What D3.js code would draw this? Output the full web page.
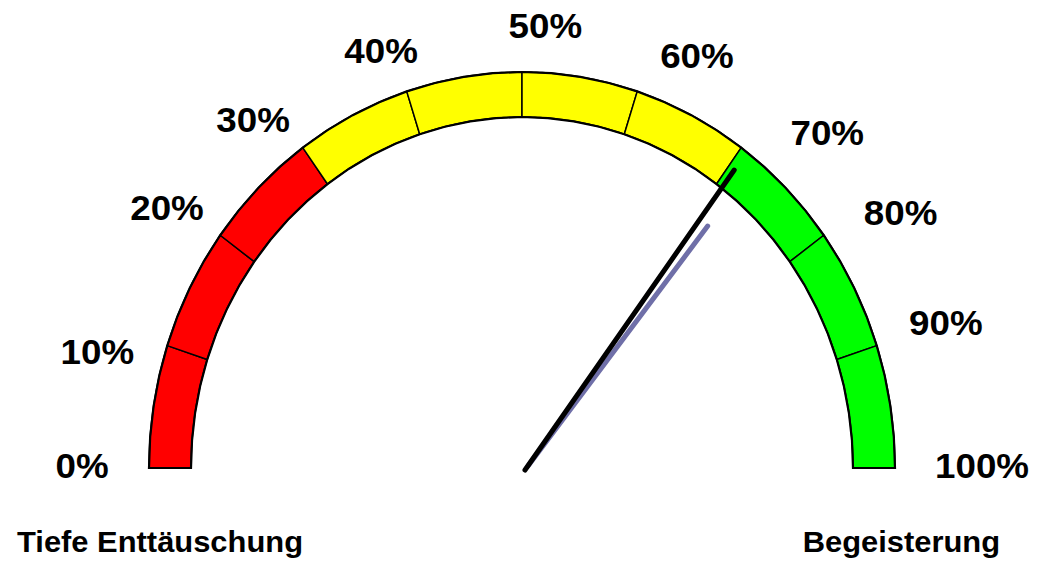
<!DOCTYPE html>
<html>
<head>
<meta charset="utf-8">
<script src="https://cdn.jsdelivr.net/npm/d3@7"></script>
<style>
  html, body { margin: 0; padding: 0; background: #ffffff; }
  svg { display: block; }
  text { font-family: "Liberation Sans", Arial, sans-serif; font-weight: bold; fill: #000; }
</style>
</head>
<body>
<svg id="chart" width="1038" height="563"></svg>
<script>
// ---- data ----
const tickValues = [0, 10, 20, 30, 40, 50, 60, 70, 80, 90, 100];
const tickLabels = ["0%", "10%", "20%", "30%", "40%", "50%", "60%", "70%", "80%", "90%", "100%"];
const zoneBreaks = [0, 30, 70, 100];
const zoneNames = ["rot", "gelb", "grün"];
const needleValue = 70.6;
const shadowValue = 71.5;
const endLabels = ["Tiefe Enttäuschung", "Begeisterung"];

// ---- style / layout ----
const zoneColors = ["#FF0000", "#FFFF00", "#00FF00"];
const W = 1038, H = 563;
const cx = 522, cy = 468;
const outerRx = 373, outerRy = 396, innerRx = 331, innerRy = 351;
const midRx = (outerRx + innerRx) / 2, midRy = (outerRy + innerRy) / 2;
const labelCx = 532, labelCy = 465, labelRx = 450, labelRy = 440;
const labelAngleDeg = [-90, -75, -54.2, -38.3, -19.6, 1.7, 21.5, 41, 55, 70.6, 90];

const svg = d3.select("#chart");
svg.append("rect").attr("width", W).attr("height", H).attr("fill", "#fff");

const angle = d3.scaleLinear().domain([0, 100]).range([-Math.PI / 2, Math.PI / 2]);
const labelAngle = d3.scaleLinear().domain(tickValues)
  .range(labelAngleDeg.map(d => d * Math.PI / 180));
const zoneScale = d3.scaleThreshold().domain(zoneBreaks.slice(1, -1)).range(zoneColors);

const pt = (v, rx, ry) => [cx + rx * Math.sin(angle(v)), cy - ry * Math.cos(angle(v))];
const line = d3.line();

function bandPath(a, b) {
  const n = 40;
  const outer = d3.range(n + 1).map(i => pt(a + (b - a) * i / n, outerRx, outerRy));
  const inner = d3.range(n + 1).map(i => pt(b - (b - a) * i / n, innerRx, innerRy));
  return line(outer.concat(inner)) + "Z";
}

// segments
const segs = d3.pairs(tickValues);
svg.append("g").selectAll("path").data(segs).join("path")
  .attr("d", d => bandPath(d[0], d[1]))
  .attr("fill", d => zoneScale((d[0] + d[1]) / 2))
  .attr("stroke", "#000")
  .attr("stroke-width", 1.5)
  .attr("stroke-linejoin", "round");

// outline
svg.append("path")
  .attr("d", bandPath(tickValues[0], tickValues[tickValues.length - 1]))
  .attr("fill", "none")
  .attr("stroke", "#000")
  .attr("stroke-width", 2.2)
  .attr("stroke-linejoin", "miter");

// labels
svg.append("g").selectAll("text").data(tickValues).join("text")
  .attr("text-anchor", "middle")
  .style("font-size", "35px")
  .attr("transform", v => {
    const a = labelAngle(v);
    const r = v === 90 ? 0.975 : 1;
    const x = labelCx + labelRx * r * Math.sin(a);
    const y = labelCy - labelRy * r * Math.cos(a) + 12.5;
    return `translate(${x},${y}) scale(1.05,1)`;
  })
  .text((v, i) => tickLabels[i]);

// needle shadow + needle
const pivot = [cx + 3, cy + 2];
const sTip = pt(shadowValue, midRx * 0.83, midRy * 0.83);
svg.append("line")
  .attr("x1", pivot[0] + 3).attr("y1", pivot[1] - 4)
  .attr("x2", sTip[0] + 3).attr("y2", sTip[1])
  .attr("stroke", "#6F6FA8").attr("stroke-width", 5).attr("stroke-linecap", "round");
const nTip = pt(needleValue, midRx, midRy);
svg.append("line")
  .attr("x1", pivot[0]).attr("y1", pivot[1])
  .attr("x2", nTip[0]).attr("y2", nTip[1])
  .attr("stroke", "#000").attr("stroke-width", 5).attr("stroke-linecap", "round");

// end labels
svg.append("text").attr("transform", "translate(17,552) scale(1.03,1)")
  .attr("text-anchor", "start").style("font-size", "30px").text(endLabels[0]);
svg.append("text").attr("transform", "translate(1000,552) scale(1.03,1)")
  .attr("text-anchor", "end").style("font-size", "30px").text(endLabels[1]);
</script>
</body>
</html>
